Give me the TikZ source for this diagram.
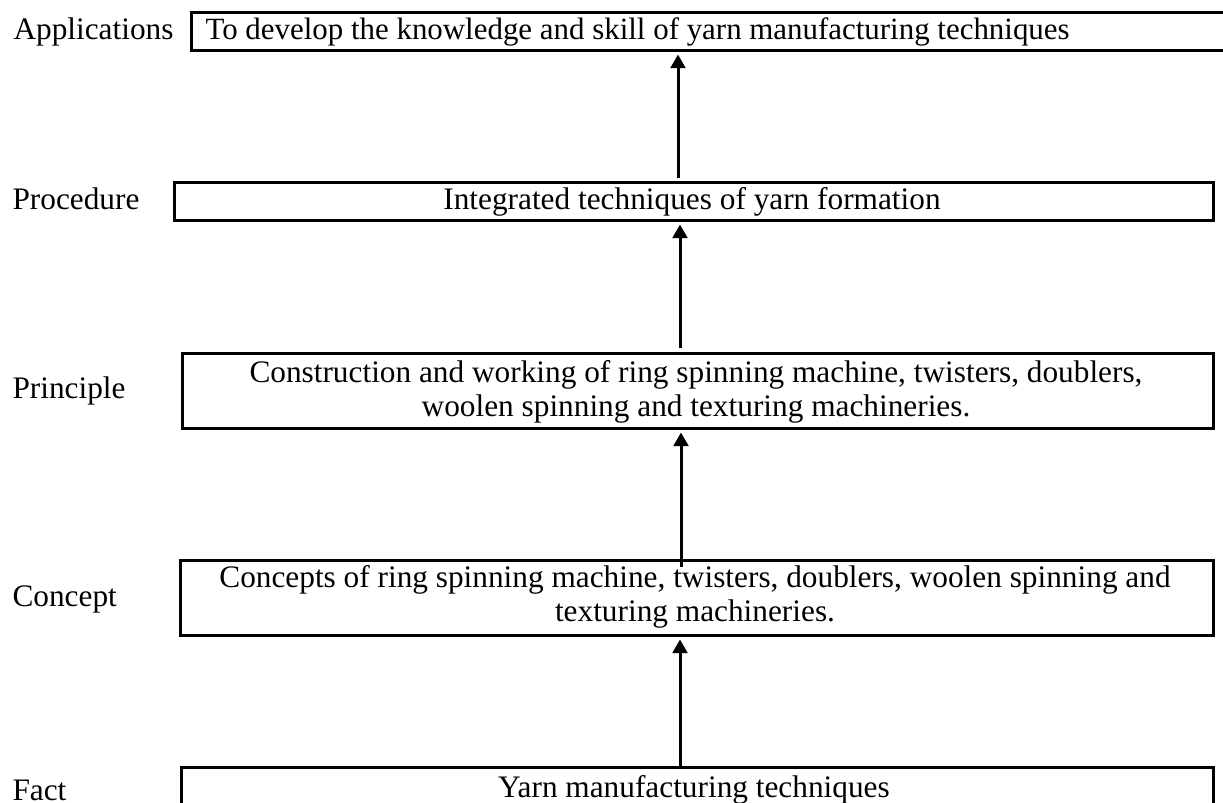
\documentclass[tikz,border=0pt]{standalone}
\usepackage{fontspec}
\setmainfont{Liberation Serif}
\usetikzlibrary{arrows.meta}
\begin{document}
\begin{tikzpicture}[x=0.3833pt,y=-0.3833pt,
  box/.style={draw,line width=1.1pt,inner sep=0pt},
  lbl/.style={anchor=base west,inner sep=0pt,font=\fontsize{12}{13.4}\selectfont},
  txt/.style={anchor=base,inner sep=0pt,align=center,font=\fontsize{12}{13.4}\selectfont},
  arr/.style={line width=1.15pt,-{Triangle[length=5.2pt,width=5.6pt]}}]
\useasboundingbox (0,0) rectangle (1223,803);
\clip (0,0) rectangle (1223,803);
% boxes
\node[box,minimum width=1100*0.3833pt,minimum height=38*0.3833pt,anchor=north west] (appbox) at (190,11) {};
\node[box,minimum width=1039*0.3833pt,minimum height=38*0.3833pt,anchor=north west] (procbox) at (173,181) {};
\node[box,minimum width=1031*0.3833pt,minimum height=75*0.3833pt,anchor=north west] (prinbox) at (181,352) {};
\node[box,minimum width=1033*0.3833pt,minimum height=75*0.3833pt,anchor=north west] (concbox) at (179,559) {};
\node[box,minimum width=1032*0.3833pt,minimum height=60*0.3833pt,anchor=north west] (factbox) at (180,766) {};
% labels
\node[lbl] (applbl) at (13,40) {Applications};
\node[lbl] (proclbl) at (12,210) {Procedure};
\node[lbl] (prinlbl) at (12,399) {Principle};
\node[lbl] (conclbl) at (12,607) {Concept};
\node[lbl] (factlbl) at (12,800) {Fact};
% box texts
\node[lbl,font=\fontsize{11.85}{13.4}\selectfont] (apptxt) at (205,40) {To develop the knowledge and skill of yarn manufacturing techniques};
\node[txt] (proctxt) at (692,210) {Integrated techniques of yarn formation};
\node[txt] (printxt) at (696,417) {Construction and working of ring spinning machine, twisters, doublers,\\woolen spinning and texturing machineries.};
\node[txt] (conctxt) at (695,622) {Concepts of ring spinning machine, twisters, doublers, woolen spinning and\\texturing machineries.};
\node[txt] (facttxt) at (694,798) {Yarn manufacturing techniques};
% arrows
\coordinate (a1) at (680,766);
\coordinate (a2) at (681,567);
\coordinate (a3) at (680,348);
\coordinate (a4) at (678,178);
\draw[arr] (a1) -- ([yshift=-1pt]a1 |- concbox.south);
\draw[arr] (a2) -- ([yshift=-1pt]a2 |- prinbox.south);
\draw[arr] (a3) -- ([yshift=-1pt]a3 |- procbox.south);
\draw[arr] (a4) -- ([yshift=-1pt]a4 |- appbox.south);
\end{tikzpicture}
\end{document}
